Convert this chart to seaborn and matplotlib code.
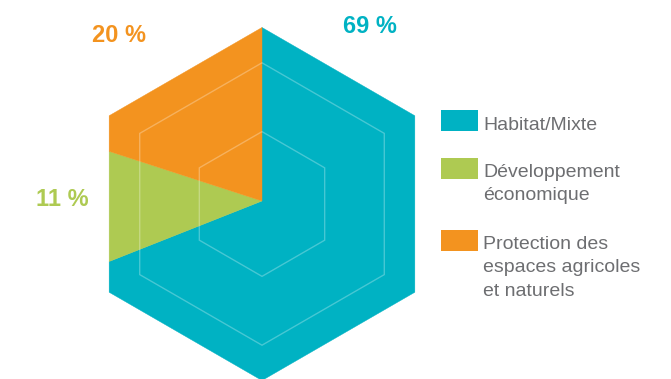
import numpy as np
import matplotlib
matplotlib.use("Agg")
import matplotlib.pyplot as plt
from matplotlib.patches import Polygon, Rectangle
import seaborn as sns

# Land-use shares (percent)
categories = ["Habitat/Mixte", "Développement économique",
              "Protection des espaces agricoles et naturels"]
legend_lines = [["Habitat/Mixte"],
                ["Développement", "économique"],
                ["Protection des", "espaces agricoles", "et naturels"]]
shares = [69, 11, 20]
share_labels = ["69 %", "11 %", "20 %"]

sns.set_theme(style="white")
plt.rcParams["font.family"] = ["Liberation Sans", "DejaVu Sans"]
palette = sns.color_palette(["#00B2C3", "#AECA52", "#F3931F"])

W, H, DPI = 671, 379, 100
fig = plt.figure(figsize=(W / DPI, H / DPI), dpi=DPI)
ax = fig.add_axes([0, 0, 1, 1])

# Hexagon frame (pointy top) and pie centre, in pixel-like units (y up)
hex_c = np.array([262.0, 175.0])
hex_r = 176.5
pie_c = np.array([262.0, 178.0])


def hexagon(center, r):
    ang = np.deg2rad(90 + 60 * np.arange(6))
    return np.column_stack([center[0] + r * np.cos(ang),
                            center[1] + r * np.sin(ang)])


outer = hexagon(hex_c, hex_r)


def ray_hit(origin, theta):
    """Point where a ray from origin at angle theta leaves the hexagon."""
    d = np.array([np.cos(theta), np.sin(theta)])
    best = None
    for i in range(6):
        a, b = outer[i], outer[(i + 1) % 6]
        e = b - a
        m = np.array([[d[0], -e[0]], [d[1], -e[1]]])
        if abs(np.linalg.det(m)) < 1e-12:
            continue
        t, s = np.linalg.solve(m, a - origin)
        if t > 0 and -1e-9 <= s <= 1 + 1e-9:
            best = t if best is None else min(best, t)
    return origin + best * d


def slice_polygon(a0, a1):
    """Slice from angle a0 clockwise to a1 (degrees), cut by the hexagon."""
    vert_ang = np.degrees(np.arctan2(outer[:, 1] - pie_c[1],
                                     outer[:, 0] - pie_c[0]))
    inner = []
    for va in vert_ang:
        # bring vertex angle into (a1, a0]
        k = np.ceil((a1 - va) / 360.0)
        va2 = va + 360 * k
        if a1 < va2 < a0:
            inner.append(va2)
    angs = [a0] + sorted(inner, reverse=True) + [a1]
    pts = [ray_hit(pie_c, np.deg2rad(a)) for a in angs]
    return np.vstack([pie_c] + pts)


bounds = 90 - 360 * np.concatenate([[0], np.cumsum(shares)]) / 100.0
for i, col in enumerate(palette):
    poly = slice_polygon(bounds[i], bounds[i + 1])
    ax.fill(poly[:, 0], poly[:, 1], color=col, linewidth=0.3, edgecolor=col)

# Concentric guide hexagons
for scale in (0.41, 0.80):
    ax.add_patch(Polygon(hexagon(hex_c, hex_r * scale), closed=True,
                         facecolor="none", edgecolor=(1, 1, 1, 0.28),
                         linewidth=1.0))

# Percentage labels
label_pos = [(370, 346), (62, 173.5), (119, 337)]
for (x, y), txt, col in zip(label_pos, share_labels, palette):
    ax.text(x, y, txt, ha="center", va="baseline", fontsize=17,
            fontweight="bold", color=col)

# Legend
swatch_bottoms = [248, 200, 128]
text_baselines = [[249], [202, 179], [130, 106.5, 83]]
for col, bottom, lines, bases in zip(palette, swatch_bottoms, legend_lines,
                                     text_baselines):
    ax.add_patch(Rectangle((441, bottom), 37, 21, facecolor=col,
                           edgecolor="none"))
    for line, yb in zip(lines, bases):
        ax.text(483, yb, line, ha="left", va="baseline", fontsize=14,
                color="#6d6e71")

ax.set_xlim(0, W)
ax.set_ylim(0, H)
ax.set_aspect("equal")
ax.axis("off")

fig.savefig("out.png", dpi=DPI)
